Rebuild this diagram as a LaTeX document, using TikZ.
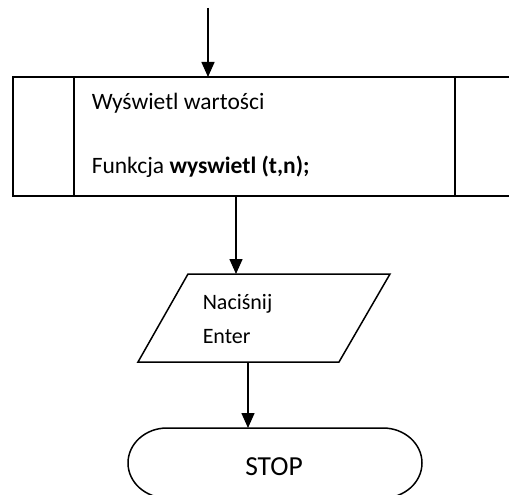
\documentclass[tikz,border=0pt]{standalone}
\usepackage{fontspec}
\setmainfont{Carlito}
\usetikzlibrary{arrows.meta}
\begin{document}
\begin{tikzpicture}[x=1pt,y=-1pt,
  line width=1.5pt,
  flow/.style={-{Triangle[length=15pt,width=13pt]}},
  lbl/.style={anchor=base west,inner sep=0pt,font=\fontsize{23.5}{28}\selectfont},
  iolbl/.style={anchor=base west,inner sep=0pt,font=\fontsize{22}{26}\selectfont},
  stoplbl/.style={anchor=base,inner sep=0pt,font=\fontsize{27.5}{32}\selectfont}]
  \useasboundingbox (0,0) rectangle (509,495);
  \clip (0,0) rectangle (509,495);

  % entry point
  \coordinate (start) at (208,8);

  % predefined process box (runs past the right edge)
  \draw (13,77) rectangle (530,196);
  \draw (74,77) -- (74,196);
  \draw (455,77) -- (455,196);
  \coordinate (proc-in) at (208,77);
  \coordinate (proc-out) at (236,196);
  \node[lbl] (proc1) at (91,110) {Wyświetl wartości};
  \node[lbl] (proc2) at (91,173) {Funkcja \textbf{wyswietl (t,n);}};

  % input parallelogram
  \draw (188,274) -- (390,274) -- (339,362) -- (138,362) -- cycle;
  \coordinate (io-in) at (236,274);
  \coordinate (io-out) at (248,362);
  \node[iolbl] (io1) at (202,309) {Naciśnij};
  \node[iolbl] (io2) at (202,343) {Enter};

  % terminator
  \draw (167,428) -- (383,428)
        arc[start angle=-90,end angle=90,x radius=39,y radius=35]
        -- (167,498)
        arc[start angle=90,end angle=270,x radius=39,y radius=35];
  \coordinate (stop-in) at (248,428);
  \node[stoplbl] (stop) at (274,475) {STOP};

  % connectors
  \draw[flow] (start) -- (proc-in);
  \draw[flow] (proc-out) -- (io-in);
  \draw[flow] (io-out) -- (stop-in);
\end{tikzpicture}
\end{document}
